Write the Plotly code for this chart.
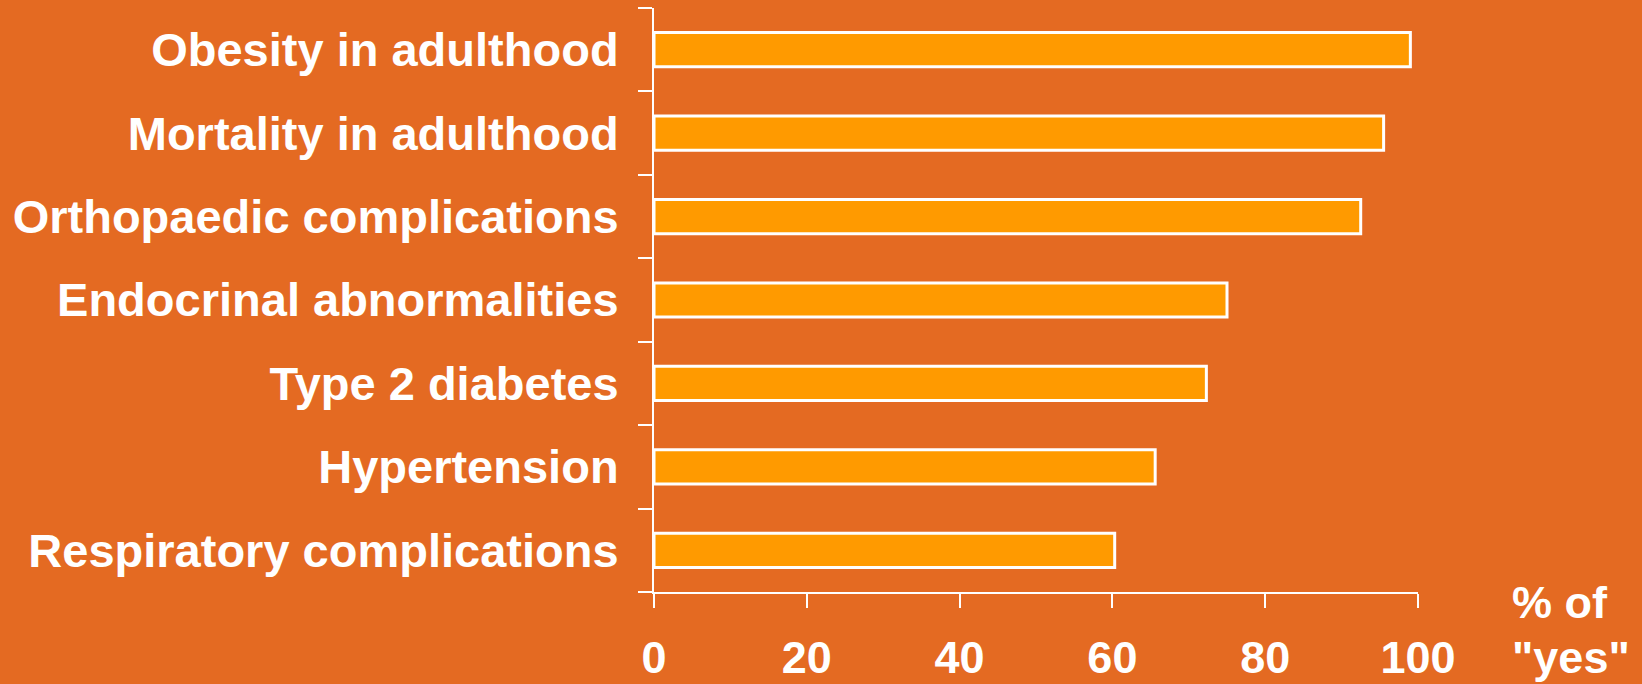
import plotly.graph_objects as go

categories = ["Obesity in adulthood", "Mortality in adulthood", "Orthopaedic complications",
              "Endocrinal abnormalities", "Type 2 diabetes", "Hypertension",
              "Respiratory complications"]
values = [99.0, 95.5, 92.5, 75.0, 72.3, 65.6, 60.3]
x_ticks = [0, 20, 40, 60, 80, 100]
axis_title_lines = ["% of", "\"yes\""]

BG = "#E46A22"
BAR = "#FF9A00"
WHITE = "white"
FONT = "Liberation Sans, Arial, sans-serif"

cats_plot = categories[::-1]
vals_plot = values[::-1]

fig = go.Figure(go.Bar(
    y=cats_plot, x=vals_plot, orientation="h",
    marker=dict(color=BAR, line=dict(color=WHITE, width=3)),
    width=0.41,
))

fig.update_layout(
    width=1642, height=684,
    margin=dict(l=654, r=224, t=8, b=92, autoexpand=False),
    paper_bgcolor=BG, plot_bgcolor=BG,
    showlegend=False,
    font=dict(family=FONT, color=WHITE),
)
fig.update_xaxes(
    range=[0, 100], tickvals=x_ticks, ticktext=[str(v) for v in x_ticks],
    showgrid=False, zeroline=False, automargin=False,
    showline=True, linecolor=WHITE, linewidth=2,
    ticks="outside", ticklen=14, tickwidth=2, tickcolor=WHITE,
    tickfont=dict(size=45, family=FONT, color=WHITE, weight="bold"),
    ticklabelstandoff=11,
)
fig.update_yaxes(
    categoryorder="array", categoryarray=cats_plot,
    range=[-0.5, 6.5], automargin=False,
    showgrid=False, zeroline=False,
    showline=True, linecolor=WHITE, linewidth=2,
    ticks="outside", ticklen=14, tickwidth=2, tickcolor=WHITE,
    tickson="boundaries",
    tickfont=dict(size=47, family=FONT, color=WHITE, weight="bold"),
    ticklabelstandoff=24,
)
for line, yc in zip(axis_title_lines, [602, 658]):
    fig.add_annotation(
        text=line, xref="paper", yref="paper",
        x=(1510 - 654) / 764, y=(592 - yc) / 584,
        xanchor="left", yanchor="middle", showarrow=False,
        font=dict(size=45, family=FONT, color=WHITE, weight="bold"),
    )

fig.write_html("out.html", config={"displayModeBar": False},
               post_script="document.body.style.margin='0';")
